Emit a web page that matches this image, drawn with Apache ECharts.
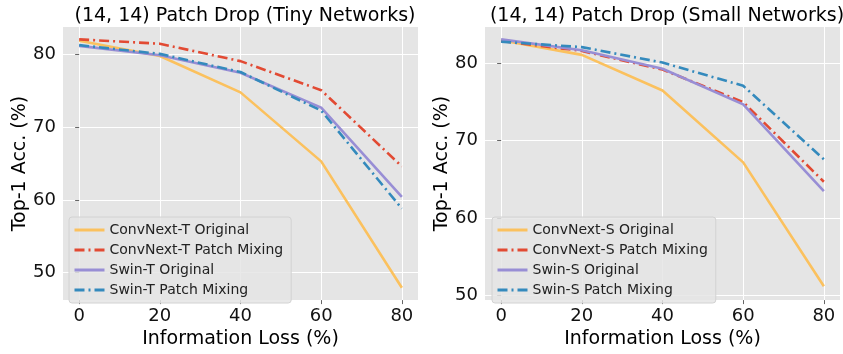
<!DOCTYPE html>
<html>
<head>
<meta charset="utf-8">
<script src="https://cdn.jsdelivr.net/npm/echarts@6/dist/echarts.min.js"></script>
<style>
  html, body { margin: 0; padding: 0; background: #fff; }
  #main { width: 843px; height: 354px; }
</style>
</head>
<body>
<div id="main"></div>
<script>
// information loss (%)
var loss = [0, 20, 40, 60, 80];
var xTicks = [0, 20, 40, 60, 80];
var yTicks = [50, 60, 70, 80];

// tiny networks
var convTOrig = [81.9, 79.8, 74.8, 65.3, 47.9];
var convTMix = [82.1, 81.5, 79.1, 75.1, 64.6];
var swinTOrig = [81.2, 79.9, 77.5, 72.7, 60.4];
var swinTMix = [81.3, 80.1, 77.6, 72.3, 58.8];

// small networks
var convSOrig = [83.0, 81.1, 76.5, 67.2, 51.2];
var convSMix = [82.9, 81.6, 79.2, 75.0, 64.7];
var swinSOrig = [83.1, 81.7, 79.3, 74.7, 63.5];
var swinSMix = [82.8, 82.1, 80.1, 77.1, 67.6];

var FONT = "DejaVu Sans";
var dashDot = [10, 4, 2, 4];

function pairs(ys) {
  return loss.map(function (x, i) { return [x, ys[i]]; });
}

function xAxisOpt(idx) {
  return {
    gridIndex: idx, type: "value", min: -4, max: 84,
    name: "Information Loss (%)", nameLocation: "middle", nameGap: 23,
    nameTextStyle: { fontFamily: FONT, fontSize: 19, color: "#000" },
    axisLine: { show: false },
    axisTick: { show: true, length: 4, lineStyle: { color: "#666" }, customValues: xTicks },
    axisLabel: { fontFamily: FONT, fontSize: 18, color: "#111", margin: 7, customValues: xTicks },
    splitLine: { show: true, lineStyle: { color: "#fff", width: 1 } }
  };
}

function yAxisOpt(idx, mn, mx) {
  return {
    gridIndex: idx, type: "value", min: mn, max: mx,
    name: "Top-1 Acc. (%)", nameLocation: "middle", nameGap: 30, nameRotate: 90,
    nameTextStyle: { fontFamily: FONT, fontSize: 19, color: "#000" },
    axisLine: { show: false },
    axisTick: { show: true, length: 4, lineStyle: { color: "#666" }, customValues: yTicks },
    axisLabel: { fontFamily: FONT, fontSize: 18, color: "#111", margin: 7, customValues: yTicks },
    splitLine: { show: true, lineStyle: { color: "#fff", width: 1 } }
  };
}

function line(name, data, color, dashed, idx) {
  return {
    name: name, type: "line", xAxisIndex: idx, yAxisIndex: idx,
    data: pairs(data), symbol: "none", z: 3,
    lineStyle: { color: color, width: 2.6, type: dashed ? dashDot : "solid" },
    itemStyle: { color: color }
  };
}

function legendOpt(left, names) {
  return {
    data: names, orient: "vertical", left: left, top: 217,
    itemWidth: 30, itemHeight: 10, itemGap: 6,
    padding: [6, 8, 6, 4],
    itemStyle: { opacity: 0 },
    lineStyle: { width: 3 },
    backgroundColor: "rgba(229,229,229,0.85)",
    borderColor: "#d2d2d2", borderWidth: 1, borderRadius: 3,
    textStyle: { fontFamily: FONT, fontSize: 14, color: "#222" }
  };
}

var chart = echarts.init(document.getElementById("main"));
chart.setOption({
  animation: false,
  title: [
    { text: "(14, 14) Patch Drop (Tiny Networks)", left: 240, top: 2, textAlign: "center",
      textStyle: { fontFamily: FONT, fontSize: 19, fontWeight: "normal", color: "#000" } },
    { text: "(14, 14) Patch Drop (Small Networks)", left: 662, top: 2, textAlign: "center",
      textStyle: { fontFamily: FONT, fontSize: 19, fontWeight: "normal", color: "#000" } }
  ],
  grid: [
    { left: 63, right: 425, top: 27, bottom: 47, show: true, backgroundColor: "#E5E5E5", borderWidth: 0 },
    { left: 485, right: 3, top: 27, bottom: 45, show: true, backgroundColor: "#E5E5E5", borderWidth: 0 }
  ],
  xAxis: [xAxisOpt(0), xAxisOpt(1)],
  yAxis: [yAxisOpt(0, 46.2, 83.8), yAxisOpt(1, 49.4, 84.7)],
  legend: [
    legendOpt(69, ["ConvNext-T Original", "ConvNext-T Patch Mixing", "Swin-T Original", "Swin-T Patch Mixing"]),
    legendOpt(492, ["ConvNext-S Original", "ConvNext-S Patch Mixing", "Swin-S Original", "Swin-S Patch Mixing"])
  ],
  series: [
    line("ConvNext-T Original", convTOrig, "#FBC15E", false, 0),
    line("ConvNext-T Patch Mixing", convTMix, "#E24A33", true, 0),
    line("Swin-T Original", swinTOrig, "#988ED5", false, 0),
    line("Swin-T Patch Mixing", swinTMix, "#348ABD", true, 0),
    line("ConvNext-S Original", convSOrig, "#FBC15E", false, 1),
    line("ConvNext-S Patch Mixing", convSMix, "#E24A33", true, 1),
    line("Swin-S Original", swinSOrig, "#988ED5", false, 1),
    line("Swin-S Patch Mixing", swinSMix, "#348ABD", true, 1)
  ]
});
</script>
</body>
</html>
